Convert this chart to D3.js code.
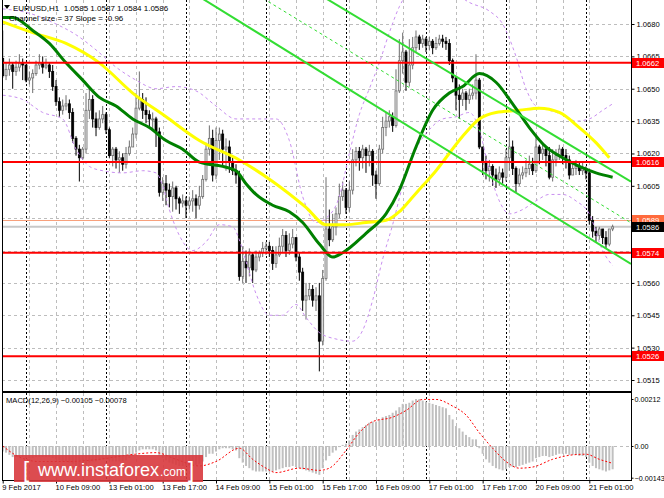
<!DOCTYPE html>
<html>
<head>
<meta charset="utf-8">
<script src="https://cdn.jsdelivr.net/npm/d3@7"></script>
<style>
body{margin:0;background:#fff}
svg{display:block;font-family:"Liberation Sans",Arial,sans-serif}
</style>
</head>
<body>
<svg id="chart" width="664" height="498"></svg>
<script>
// EURUSD H1, 9 Feb 17:00 .. 21 Feb 08:00 (184 bars)
const firstOpen = 1.0664;
const closes = [
 1.0656,1.0659,1.0661,1.0658,1.0660,1.0662,1.0661,1.0654,1.0655,1.0657,
 1.0661,1.0662,1.0660,1.0661,1.0658,1.0651,1.0644,1.0640,1.0642,1.0643,
 1.0639,1.0627,1.0622,1.0618,1.0622,1.0640,1.0645,1.0636,1.0632,1.0636,
 1.0638,1.0631,1.0619,1.0622,1.0617,1.0618,1.0615,1.0620,1.0623,1.0629,
 1.0641,1.0645,1.0640,1.0638,1.0636,1.0636,1.0630,1.0602,1.0606,1.0603,
 1.0600,1.0604,1.0599,1.0597,1.0598,1.0596,1.0598,1.0599,1.0596,1.0600,
 1.0608,1.0622,1.0627,1.0610,1.0626,1.0629,1.0622,1.0623,1.0616,1.0612,
 1.0610,1.0563,1.0570,1.0567,1.0573,1.0566,1.0572,1.0574,1.0576,1.0577,
 1.0575,1.0569,1.0573,1.0577,1.0582,1.0575,1.0578,1.0581,1.0572,1.0565,
 1.0552,1.0554,1.0557,1.0552,1.0554,1.0533,1.0562,1.0585,1.0580,1.0586,
 1.0592,1.0600,1.0603,1.0595,1.0603,1.0617,1.0621,1.0618,1.0622,1.0619,
 1.0621,1.0610,1.0606,1.0622,1.0632,1.0635,1.0637,1.0633,1.0649,1.0663,
 1.0667,1.0653,1.0661,1.0669,1.0674,1.0671,1.0673,1.0670,1.0672,1.0669,
 1.0671,1.0673,1.0672,1.0671,1.0663,1.0655,1.0647,1.0645,1.0648,1.0645,
 1.0647,1.0648,1.0654,1.0623,1.0616,1.0612,1.0614,1.0610,1.0608,1.0611,
 1.0609,1.0618,1.0623,1.0613,1.0606,1.0610,1.0611,1.0613,1.0615,1.0612,
 1.0623,1.0620,1.0622,1.0619,1.0609,1.0617,1.0619,1.0622,1.0619,1.0617,
 1.0610,1.0613,1.0614,1.0612,1.0613,1.0611,1.0589,1.0584,1.0582,1.0585,
 1.0581,1.0578,1.0585,1.0586
];
const highs = [
 1.0677,1.0662,1.0664,1.0662,1.0663,1.0666,1.0664,1.0661,1.0658,1.0659,
 1.0663,1.0666,1.0665,1.0664,1.0662,1.0661,1.0654,1.0646,1.0645,1.0647,
 1.0645,1.0641,1.0628,1.0624,1.0623,1.0648,1.0650,1.0647,1.0639,1.0640,
 1.0642,1.0639,1.0632,1.0623,1.0623,1.0621,1.0620,1.0623,1.0626,1.0632,
 1.0648,1.0658,1.0648,1.0646,1.0640,1.0639,1.0637,1.0632,1.0609,1.0610,
 1.0606,1.0607,1.0605,1.0600,1.0601,1.0600,1.0600,1.0603,1.0601,1.0605,
 1.0610,1.0625,1.0633,1.0631,1.0632,1.0632,1.0631,1.0627,1.0626,1.0619,
 1.0615,1.0612,1.0577,1.0575,1.0576,1.0574,1.0575,1.0575,1.0579,1.0579,
 1.0579,1.0577,1.0577,1.0581,1.0585,1.0584,1.0583,1.0585,1.0581,1.0574,
 1.0567,1.0560,1.0560,1.0559,1.0558,1.0560,1.0566,1.0609,1.0594,1.0592,
 1.0595,1.0606,1.0607,1.0604,1.0607,1.0622,1.0623,1.0623,1.0624,1.0623,
 1.0624,1.0622,1.0612,1.0624,1.0637,1.0639,1.0640,1.0639,1.0659,1.0673,
 1.0676,1.0668,1.0673,1.0674,1.0677,1.0675,1.0675,1.0674,1.0674,1.0673,
 1.0674,1.0675,1.0675,1.0674,1.0673,1.0664,1.0656,1.0652,1.0650,1.0649,
 1.0650,1.0652,1.0666,1.0655,1.0623,1.0619,1.0617,1.0615,1.0613,1.0614,
 1.0613,1.0622,1.0632,1.0626,1.0614,1.0613,1.0614,1.0617,1.0619,1.0618,
 1.0629,1.0624,1.0625,1.0623,1.0623,1.0622,1.0622,1.0624,1.0623,1.0622,
 1.0619,1.0616,1.0617,1.0616,1.0616,1.0614,1.0612,1.0591,1.0586,1.0586,
 1.0585,1.0584,1.0585,1.0587
];
const lows = [
 1.0655,1.0654,1.0656,1.0650,1.0656,1.0658,1.0654,1.0653,1.0652,1.0648,
 1.0656,1.0659,1.0657,1.0659,1.0655,1.0649,1.0642,1.0637,1.0638,1.0640,
 1.0636,1.0625,1.0619,1.0607,1.0617,1.0620,1.0636,1.0632,1.0628,1.0631,
 1.0634,1.0629,1.0618,1.0614,1.0613,1.0611,1.0612,1.0613,1.0619,1.0623,
 1.0627,1.0640,1.0636,1.0634,1.0632,1.0631,1.0623,1.0600,1.0598,1.0596,
 1.0595,1.0593,1.0594,1.0592,1.0595,1.0590,1.0594,1.0593,1.0590,1.0594,
 1.0599,1.0607,1.0619,1.0607,1.0608,1.0617,1.0614,1.0612,1.0611,1.0610,
 1.0606,1.0561,1.0560,1.0560,1.0563,1.0560,1.0565,1.0570,1.0572,1.0573,
 1.0572,1.0566,1.0567,1.0572,1.0574,1.0572,1.0573,1.0576,1.0570,1.0561,
 1.0547,1.0543,1.0552,1.0549,1.0547,1.0519,1.0531,1.0561,1.0577,1.0579,
 1.0582,1.0590,1.0598,1.0592,1.0593,1.0601,1.0614,1.0612,1.0613,1.0611,
 1.0614,1.0605,1.0599,1.0605,1.0620,1.0628,1.0632,1.0630,1.0632,1.0648,
 1.0657,1.0649,1.0651,1.0659,1.0667,1.0668,1.0669,1.0667,1.0668,1.0666,
 1.0668,1.0670,1.0669,1.0668,1.0661,1.0653,1.0640,1.0636,1.0642,1.0640,
 1.0643,1.0645,1.0645,1.0622,1.0610,1.0608,1.0607,1.0605,1.0604,1.0605,
 1.0606,1.0607,1.0612,1.0610,1.0602,1.0605,1.0608,1.0609,1.0610,1.0610,
 1.0611,1.0615,1.0617,1.0614,1.0608,1.0607,1.0614,1.0617,1.0615,1.0613,
 1.0608,1.0610,1.0610,1.0610,1.0610,1.0608,1.0587,1.0581,1.0579,1.0580,
 1.0578,1.0576,1.0577,1.0584
];

// moving averages (at sample bars)
const maFastBars = [0,3,9,14,19,24,29,34,39,44,49,54,59,66,70,73,76,81,86,90,95,99,102,109,115,119,124,129,134,138,143,148,153,158,163,168,173,178,183];
const maFast = [1.0683,1.0683,1.0677,1.0671,1.0662,1.0654,1.0646,1.0642,1.0636,1.0632,1.0626,1.0622,1.0616,1.0614,1.0612,1.0606,1.0601,1.0596,1.0593,1.0588,1.0578,1.0572,1.0574,1.0583,1.0592,1.0603,1.0623,1.0640,1.0648,1.0651,1.0657,1.0653,1.0643,1.0632,1.0623,1.0618,1.0614,1.0611,1.0609];
const maSlowBars = [0,9,19,29,39,49,59,71,81,91,97,103,109,115,119,122,126,130,132,138,143,148,155,161,167,173,178,182];
const maSlow = [1.0681,1.0676,1.0671,1.0662,1.0648,1.0637,1.0626,1.0617,1.0607,1.0595,1.0587,1.0587,1.0588,1.0589,1.0593,1.0598,1.0605,1.0612,1.0616,1.0628,1.0636,1.0639,1.0640,1.0641,1.0639,1.0632,1.0625,1.0618];

// bands (purple dashed)
const upperBandBars = [0,8,16,22,28,34,40,46,52,58,64,70,76,82,86,90,94,97,101,104,107,110,113,116,119,123,128,134,140,146,150,154,157,160,164,168,172,176,180,183];
const upperBand = [1.0687,1.0685,1.0680,1.0675,1.0668,1.0660,1.0654,1.0650,1.0651,1.0649,1.0642,1.0636,1.0636,1.0636,1.0626,1.0600,1.0588,1.0590,1.0600,1.0620,1.0638,1.0650,1.0662,1.0676,1.0688,1.0697,1.0700,1.0696,1.0690,1.0686,1.0680,1.0665,1.0650,1.0642,1.0640,1.0638,1.0635,1.0636,1.0640,1.0643];
const lowerBandBars = [0,6,12,18,22,26,30,36,42,46,48,50,53,57,61,65,69,71,73,76,80,84,88,91,95,100,105,108,111,114,117,120,124,128,132,136,140,143,146,149,152,156,160,164,168,172,176,180,183];
const lowerBand = [1.0647,1.0645,1.0639,1.0636,1.0622,1.0614,1.0612,1.0611,1.0612,1.0611,1.0605,1.0594,1.0582,1.0575,1.0579,1.0587,1.0586,1.0580,1.0570,1.0555,1.0545,1.0545,1.0550,1.0544,1.0537,1.0534,1.0533,1.0538,1.0552,1.0571,1.0587,1.0605,1.0622,1.0631,1.0636,1.0637,1.0639,1.0631,1.0612,1.0598,1.0592,1.0594,1.0598,1.0601,1.0601,1.0598,1.0592,1.0575,1.0568];

// regression channel anchors
const channelBars = [113, 182];
const channelUpper = [1.0677, 1.0613];
const channelMiddle = [1.0659, 1.0594];
const channelLower = [1.0641, 1.0575];

// horizontal levels
const levels = [1.0662, 1.0616, 1.0574, 1.0526];
const askPrice = 1.0589;
const bidPrice = 1.0586;
const priceTicks = [1.0680,1.0665,1.0650,1.0635,1.0620,1.0605,1.0590,1.0575,1.0560,1.0545,1.0530,1.0515];

// MACD(12,26,9)
const macdHist = [
 -0.00025,-0.00030,-0.00040,-0.00050,-0.00050,-0.00050,-0.00050,-0.00055,-0.00055,-0.00055,
 -0.00050,-0.00050,-0.00050,-0.00050,-0.00050,-0.00055,-0.00060,-0.00065,-0.00070,-0.00070,
 -0.00075,-0.00080,-0.00090,-0.00095,-0.00095,-0.00085,-0.00075,-0.00070,-0.00070,-0.00065,
 -0.00060,-0.00060,-0.00065,-0.00070,-0.00070,-0.00070,-0.00070,-0.00065,-0.00055,-0.00045,
 -0.00030,-0.00020,-0.00015,-0.00015,-0.00015,-0.00015,-0.00020,-0.00045,-0.00055,-0.00065,
 -0.00075,-0.00080,-0.00085,-0.00090,-0.00090,-0.00090,-0.00090,-0.00085,-0.00085,-0.00080,
 -0.00070,-0.00050,-0.00035,-0.00035,-0.00025,-0.00015,-0.00010,-0.00010,-0.00010,-0.00015,
 -0.00020,-0.00055,-0.00075,-0.00090,-0.00100,-0.00110,-0.00115,-0.00115,-0.00115,-0.00115,
 -0.00115,-0.00115,-0.00110,-0.00105,-0.00100,-0.00095,-0.00095,-0.00090,-0.00095,-0.00100,
 -0.00105,-0.00110,-0.00115,-0.00120,-0.00125,-0.00130,-0.00100,-0.00065,-0.00045,-0.00030,
 -0.00020,-0.00005,0.00005,0.00010,0.00025,0.00050,0.00065,0.00075,0.00085,0.00095,
 0.00105,0.00110,0.00110,0.00120,0.00130,0.00135,0.00140,0.00150,0.00160,0.00175,
 0.00190,0.00190,0.00195,0.00205,0.00212,0.00212,0.00205,0.00200,0.00195,0.00190,
 0.00185,0.00180,0.00175,0.00170,0.00140,0.00120,0.00090,0.00080,0.00065,0.00050,
 0.00040,0.00030,0.00030,-0.00010,-0.00035,-0.00060,-0.00075,-0.00090,-0.00100,-0.00105,
 -0.00110,-0.00105,-0.00095,-0.00095,-0.00095,-0.00090,-0.00085,-0.00080,-0.00075,-0.00070,
 -0.00055,-0.00050,-0.00045,-0.00045,-0.00050,-0.00045,-0.00040,-0.00035,-0.00035,-0.00035,
 -0.00040,-0.00040,-0.00040,-0.00045,-0.00045,-0.00050,-0.00075,-0.00090,-0.00100,-0.00105,
 -0.00110,-0.00115,-0.00110,-0.00105
];
const signalBars = [0,5,11,19,29,38,46,52,59,64,71,75,79,82,89,95,98,103,107,111,117,121,126,130,135,139,143,147,151,155,159,165,171,175,179,183];
const signal = [0.0000,-0.0005,-0.0007,-0.0007,-0.0006,-0.0004,-0.0003,-0.0006,-0.0009,-0.0007,-0.0001,-0.0006,-0.0010,-0.0012,-0.0010,-0.0011,-0.0010,-0.0002,0.0006,0.0011,0.0013,0.0016,0.0021,0.0021,0.0018,0.0014,0.0006,-0.0001,-0.0007,-0.0010,-0.00095,-0.0006,-0.0004,-0.00037,-0.0006,-0.00078];
const macdTicks = [0.00212, 0, -0.00143];

// time axis
const labelBars = [0,16,32,48,64,80,96,112,128,144,160,176];
const timeLabels = ["9 Feb 2017","10 Feb 09:00","13 Feb 01:00","13 Feb 17:00","14 Feb 09:00","15 Feb 01:00","15 Feb 17:00","16 Feb 09:00","17 Feb 01:00","17 Feb 17:00","20 Feb 09:00","21 Feb 01:00"];
const dayStarts = [7,31,55,79,103,127,151,175];

const svg = d3.select("#chart");
const left = 2, right = 631, mainBottom = 391, macdTop = 393, macdBottom = 480;

const x = d3.scaleLinear().domain([0, closes.length - 1]).range([2.7, 2.7 + (closes.length - 1) * 3.333]);
const y = d3.scaleLinear().domain([1.0515, 1.0680]).range([380, 24]);
const ym = d3.scaleLinear().domain([0, 0.00212]).range([446, 399]);
const px = v => Math.round(v) + 0.5;

svg.append("rect").attr("width", 664).attr("height", 498).attr("fill", "#fff");

const defs = svg.append("defs");
defs.append("clipPath").attr("id", "mainClip").append("rect")
    .attr("x", left).attr("y", 0).attr("width", right - left).attr("height", mainBottom);
defs.append("clipPath").attr("id", "macdClip").append("rect")
    .attr("x", left).attr("y", macdTop).attr("width", right - left).attr("height", macdBottom - macdTop);

// ---------- grid
const grid = svg.append("g");
grid.selectAll(".hg").data(priceTicks).enter().append("line")
    .attr("x1", left).attr("x2", right)
    .attr("y1", d => px(y(d))).attr("y2", d => px(y(d)))
    .attr("stroke", "#bdbdbd").attr("stroke-dasharray", "3,3");
const gridBars = d3.range(0, closes.length, 8).filter(b => b > 0);
[[0, mainBottom], [macdTop, macdBottom]].forEach(([a, b]) => {
    grid.selectAll(null).data(gridBars).enter().append("line")
        .attr("x1", d => px(x(d))).attr("x2", d => px(x(d)))
        .attr("y1", a).attr("y2", b)
        .attr("stroke", "#bdbdbd").attr("stroke-dasharray", "3,3");
    grid.selectAll(null).data(dayStarts).enter().append("line")
        .attr("x1", d => px(x(d))).attr("x2", d => px(x(d)))
        .attr("y1", a).attr("y2", b)
        .attr("stroke", "#000").attr("stroke-dasharray", "2,2");
});
grid.append("line").attr("x1", left).attr("x2", right)
    .attr("y1", px(ym(0))).attr("y2", px(ym(0)))
    .attr("stroke", "#bdbdbd").attr("stroke-dasharray", "3,3");

// ---------- main panel
const main = svg.append("g").attr("clip-path", "url(#mainClip)");

main.append("line").attr("x1", left).attr("x2", right)
    .attr("y1", y(bidPrice)).attr("y2", y(bidPrice))
    .attr("stroke", "#c8c8c8").attr("stroke-width", 2);
main.append("line").attr("x1", left).attr("x2", right)
    .attr("y1", px(y(askPrice))).attr("y2", px(y(askPrice)))
    .attr("stroke", "#f7a07c").attr("stroke-width", 1);

const candles = closes.map((c, i) => {
    const o = i ? closes[i - 1] : firstOpen;
    return {i: i, o: o, c: c, h: Math.max(highs[i], o, c), l: Math.min(lows[i], o, c), up: c >= o};
});
const cg = main.append("g");
cg.selectAll(".wick").data(candles).enter().append("line")
    .attr("x1", d => x(d.i)).attr("x2", d => x(d.i))
    .attr("y1", d => y(d.h)).attr("y2", d => y(d.l))
    .attr("stroke", d => d.up ? "#6e6e6e" : "#000").attr("stroke-width", 1);
cg.selectAll(".body").data(candles).enter().append("rect")
    .attr("x", d => x(d.i) - 1)
    .attr("width", 2)
    .attr("y", d => y(Math.max(d.o, d.c)))
    .attr("height", d => Math.max(1, Math.abs(y(d.o) - y(d.c))))
    .attr("fill", d => d.up ? "#e6e6e6" : "#000")
    .attr("stroke", d => d.up ? "#6e6e6e" : "#000")
    .attr("stroke-width", 0.8);

const band = (bars, vals) => d3.line().curve(d3.curveMonotoneX)
    .x((d, k) => x(bars[k])).y(d => y(d))(vals);
[[upperBandBars, upperBand], [lowerBandBars, lowerBand]].forEach(([b, v]) => {
    main.append("path").attr("d", band(b, v))
        .attr("fill", "none").attr("stroke", "#c98ff0")
        .attr("stroke-width", 1).attr("stroke-dasharray", "3,3");
});
main.append("path").attr("d", band(maSlowBars, maSlow))
    .attr("fill", "none").attr("stroke", "#ffff00").attr("stroke-width", 3);
main.append("path").attr("d", band(maFastBars, maFast))
    .attr("fill", "none").attr("stroke", "#008000").attr("stroke-width", 3);

main.selectAll(".lvl").data(levels).enter().append("line")
    .attr("x1", left).attr("x2", right)
    .attr("y1", d => y(d)).attr("y2", d => y(d))
    .attr("stroke", "#ff0000").attr("stroke-width", 2);

// channel lines run across the whole window
const chan = (vals, dash) => {
    const k = (vals[1] - vals[0]) / (channelBars[1] - channelBars[0]);
    const at = b => vals[0] + (b - channelBars[0]) * k;
    const b0 = x.invert(left), b1 = x.invert(right);
    main.append("line")
        .attr("x1", x(b0)).attr("y1", y(at(b0)))
        .attr("x2", x(b1)).attr("y2", y(at(b1)))
        .attr("stroke", "#33dd33")
        .attr("stroke-width", dash ? 1 : 2)
        .attr("stroke-dasharray", dash ? "3,3" : null);
};
chan(channelUpper, false);
chan(channelLower, false);
chan(channelMiddle, true);

// ---------- MACD panel
const macd = svg.append("g").attr("clip-path", "url(#macdClip)");
macd.selectAll(".hist").data(macdHist).enter().append("rect")
    .attr("x", (d, i) => x(i) - 1)
    .attr("width", 2)
    .attr("y", d => Math.min(ym(0), ym(d)))
    .attr("height", d => Math.abs(ym(d) - ym(0)))
    .attr("fill", "#c0c0c0");
macd.append("path")
    .attr("d", d3.line().curve(d3.curveMonotoneX).x((d, k) => x(signalBars[k])).y(d => ym(d))(signal))
    .attr("fill", "none").attr("stroke", "#ff0000").attr("stroke-width", 1).attr("stroke-dasharray", "2,2");

// ---------- frames
const frame = svg.append("g").attr("stroke", "#000").attr("fill", "none");
frame.append("line").attr("x1", left + 0.5).attr("x2", left + 0.5).attr("y1", 0).attr("y2", macdBottom);
frame.append("line").attr("x1", right + 0.5).attr("x2", right + 0.5).attr("y1", 0).attr("y2", macdBottom + 1);
frame.append("line").attr("x1", left).attr("x2", right).attr("y1", 392).attr("y2", 392).attr("stroke-width", 2);
frame.append("line").attr("x1", left).attr("x2", right + 1).attr("y1", macdBottom + 0.5).attr("y2", macdBottom + 0.5);

// ---------- axes
// labels that sit under a price box are hidden on the terminal scale
const boxed = levels.concat([askPrice, bidPrice]);
const shownTicks = priceTicks.filter(t => d3.min(boxed, b => Math.abs(y(b) - y(t))) > 4.5);
const priceAxis = svg.append("g").attr("transform", "translate(" + (right + 0.5) + ",0)")
    .call(d3.axisRight(y).tickValues(shownTicks).tickSize(3).tickPadding(2).tickFormat(d3.format(".4f")));
const macdAxis = svg.append("g").attr("transform", "translate(" + (right + 0.5) + ",0)")
    .call(d3.axisRight(ym).tickValues(macdTicks).tickSize(2).tickPadding(1)
        .tickFormat(d => d === 0 ? "0.00" : d3.format(".5f")(d)));
const timeAxis = svg.append("g").attr("transform", "translate(0," + (macdBottom + 0.5) + ")")
    .call(d3.axisBottom(x).tickValues(labelBars).tickSize(3).tickPadding(1)
        .tickFormat((d, i) => timeLabels[i]));
[priceAxis, macdAxis, timeAxis].forEach(a => {
    a.select(".domain").remove();
    a.selectAll("text").attr("font-size", "7.6px").attr("fill", "#000")
        .attr("font-family", "Liberation Sans, Arial, sans-serif");
    a.selectAll("line").attr("stroke", "#000");
});
macdAxis.selectAll("text").attr("font-size", "7.2px");
timeAxis.selectAll("text").attr("text-anchor", "start").attr("dx", "-1px");

// price boxes on the right scale
const boxes = levels.map(v => ({v: v, fill: "#ff0000"}))
    .concat([{v: askPrice, fill: "#ff6a3c"}, {v: bidPrice, fill: "#000"}]);
const bx = svg.append("g");
boxes.forEach(b => {
    const cy = Math.round(y(b.v));
    bx.append("rect").attr("x", right + 1).attr("y", cy - 5).attr("width", 664 - right).attr("height", 10)
        .attr("fill", b.fill);
    bx.append("text").attr("x", right + 5).attr("y", cy + 3)
        .attr("font-size", "7.6px").attr("fill", "#fff").text(d3.format(".4f")(b.v));
});

// ---------- texts
const last = candles[candles.length - 1];
svg.append("path").attr("d", "M4,5 L10,5 L7,9 Z").attr("fill", "#000");
svg.append("text").attr("x", 13).attr("y", 11).attr("font-size", "8px").attr("fill", "#000")
    .attr("xml:space", "preserve")
    .text("EURUSD,H1  " + [last.o, last.h, last.l, last.c].map(d3.format(".4f")).join(" "));
svg.append("text").attr("x", 9).attr("y", 21).attr("font-size", "8px").attr("fill", "#000")
    .text("Channel size = 37 Slope = -0.96");
svg.append("text").attr("x", 6).attr("y", 403).attr("font-size", "7.6px").attr("fill", "#000")
    .text("MACD(12,26,9) " + d3.format(".5f")(macdHist[macdHist.length - 1]) + " " + d3.format(".5f")(signal[signal.length - 1]));

// watermark
const wm = svg.append("g");
wm.append("rect").attr("x", 14).attr("y", 455).attr("width", 189).attr("height", 27)
    .attr("fill", "#d8383d").attr("opacity", 0.9);
wm.append("text").attr("x", 23).attr("y", 477).attr("font-size", "22px").attr("fill", "#fff")
    .attr("font-weight", 300).text("[");
wm.append("text").attr("x", 38).attr("y", 476).attr("font-size", "18px").attr("fill", "#fff")
    .text("www.instaforex");
wm.append("text").attr("x", 160).attr("y", 476).attr("font-size", "12px").attr("fill", "#fff")
    .text(".com");
wm.append("text").attr("x", 188).attr("y", 477).attr("font-size", "22px").attr("fill", "#fff")
    .attr("font-weight", 300).text("]");
</script>
</body>
</html>
